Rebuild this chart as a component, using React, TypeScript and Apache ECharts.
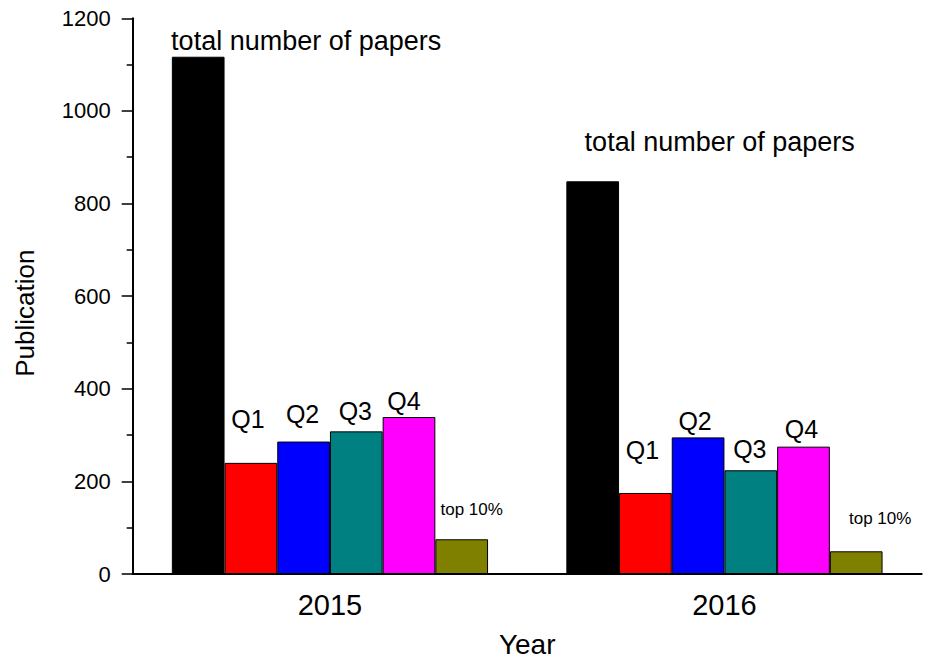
import React, { useEffect, useRef } from "react";
import * as echarts from "echarts";

// ---- data ----
const years = ["2015", "2016"];
const seriesNames = ["total number of papers", "Q1", "Q2", "Q3", "Q4", "top 10%"];
const totalPapers = [1117, 848];
const q1 = [240, 175];
const q2 = [286, 295];
const q3 = [308, 224];
const q4 = [339, 275];
const top10 = [75, 49];
const yAxisTitle = "Publication";
const xAxisTitle = "Year";

// ---- styles ----
const FONT = "'Liberation Sans', Arial, sans-serif";
const colors = ["#000000", "#FF0000", "#0000FF", "#008080", "#FF00FF", "#808000"];
const labelFontSizes = [27, 25, 25, 25, 25, 17];
const labelOffsets = [
  [[108, 3], [127, -21]],
  [[-3, -26], [-3, -25]],
  [[-1, -10], [-3, 1]],
  [[-1, -3], [-1, -4]],
  [[-5, 1], [-2, 0]],
  [[10, -16], [24, -19]],
];

export default function App() {
  const ref = useRef<HTMLDivElement>(null);
  useEffect(() => {
    if (!ref.current) return;
    const chart = echarts.init(ref.current, undefined, { renderer: "svg" });
    const values = [totalPapers, q1, q2, q3, q4, top10];
    const series = values.map((arr, si) => ({
      name: seriesNames[si],
      type: "bar",
      barWidth: 52.7,
      barGap: "0%",
      itemStyle: {
        color: colors[si],
        borderColor: "#000000",
        borderWidth: 1,
      },
      label: {
        show: true,
        position: "top",
        formatter: "{a}",
        color: "#000000",
        fontFamily: FONT,
        fontSize: labelFontSizes[si],
      },
      data: arr.map((v, i) => ({
        value: v,
        label: { offset: labelOffsets[si][i] },
      })),
    }));
    chart.setOption({
      animation: false,
      backgroundColor: "#ffffff",
      grid: { left: 132.7, right: 8.3, top: 18.3, bottom: 84.7 },
      xAxis: {
        type: "category",
        data: years,
        name: xAxisTitle,
        nameLocation: "middle",
        nameGap: 56,
        nameTextStyle: { fontFamily: FONT, fontSize: 28, color: "#000" },
        axisLine: { lineStyle: { color: "#000", width: 2 } },
        axisTick: { show: false },
        axisLabel: { fontFamily: FONT, fontSize: 29, color: "#000", margin: 16 },
      },
      yAxis: {
        type: "value",
        min: 0,
        max: 1200,
        interval: 200,
        name: yAxisTitle,
        nameLocation: "middle",
        nameGap: 95,
        nameTextStyle: { fontFamily: FONT, fontSize: 26, color: "#000", padding: [0, 34, 0, 0] },
        axisLine: { show: true, onZero: false, lineStyle: { color: "#000", width: 2 } },
        axisTick: { show: true, length: 11, lineStyle: { color: "#000", width: 1.5 } },
        minorTick: { show: true, splitNumber: 2, length: 6, lineStyle: { color: "#000", width: 1.5 } },
        splitLine: { show: false },
        axisLabel: {
          fontFamily: FONT,
          fontSize: 22,
          color: "#000",
          margin: 22,
          formatter: (v: number) => String(v),
        },
      },
      series,
    });
    return () => chart.dispose();
  }, []);
  return (
    <div
      ref={ref}
      style={{ position: "fixed", left: 0, top: 0, width: 930, height: 663 }}
    />
  );
}
